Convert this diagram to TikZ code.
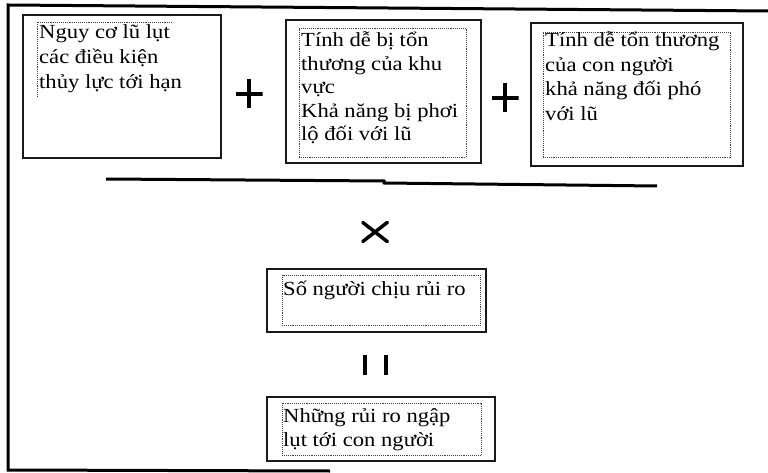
\documentclass[tikz,border=0pt]{standalone}
\usepackage{fontspec}
\setmainfont[FakeStretch=1.13]{Liberation Serif}
\newcommand\txtlines[2]{\vtop{\baselineskip=#1pt\lineskiplimit=-100pt\lineskip=0pt\halign{##\hfil\cr#2\crcr}}}
\begin{document}
\begin{tikzpicture}[x=1pt,y=-1pt,
  frameline/.style={line width=3pt, line join=miter},
  outerbox/.style={draw=black!90, line width=1.3pt, inner sep=0pt},
  innerbox/.style={draw=black!75, densely dotted, line width=0.9pt, inner sep=0pt},
  txt/.style={anchor=base west, inner sep=0pt, font=\fontsize{20}{24}\selectfont, text=black},
  plussign/.style={minimum width=27pt, minimum height=29pt, inner sep=0pt,
    path picture={\draw[line width=3.2pt] (path picture bounding box.west) -- (path picture bounding box.east)
      (path picture bounding box.north) -- (path picture bounding box.south);}},
  timessign/.style={minimum width=27pt, minimum height=21pt, inner sep=0pt,
    path picture={\draw[line width=3.5pt] (path picture bounding box.north west) -- (path picture bounding box.south east)
      (path picture bounding box.north east) -- (path picture bounding box.south west);}},
  bar/.style={line width=3.4pt}
]
\useasboundingbox (0,0) rectangle (768,473);
% outer frame
\coordinate (fTR) at (768,11);
\coordinate (fTL) at (8,5);
\coordinate (fBL) at (8,470);
\coordinate (fBR) at (330,471);
\draw[frameline] (fTR) -- (fTL) -- (fBL) -- (fBR);

% box 1
\node[outerbox, minimum width=198pt, minimum height=143pt] (b1) at (122,86.5) {};
\coordinate (i1a) at (172,22);
\coordinate (i1b) at (37,22);
\coordinate (i1c) at (37,97);
\draw[black!75, densely dotted, line width=0.9pt] (i1a) -- (i1b) -- (i1c);
\node[txt] (t1) at (39,39) {\txtlines{25}{Nguy cơ lũ lụt\cr các điều kiện\cr thủy lực tới hạn}};

% box 2
\node[outerbox, minimum width=195pt, minimum height=143pt] (b2) at (383.5,91.5) {};
\node[innerbox, minimum width=167pt, minimum height=129pt] (d2) at (382.5,92.5) {};
\node[txt] (t2) at (301,47) {\txtlines{23.5}{Tính dễ bị tổn\cr thương của khu\cr vực\cr Khả năng bị phơi\cr lộ đối với lũ}};

% box 3
\node[outerbox, minimum width=212pt, minimum height=143pt] (b3) at (637,94.5) {};
\node[innerbox, minimum width=187pt, minimum height=125pt] (d3) at (636.5,94.5) {};
\node[txt] (t3) at (545,47) {\txtlines{24.5}{Tính dễ tổn thương\cr của con người\cr khả năng đối phó\cr với lũ}};

% plus signs
\node[plussign] (p1) at (249,94) {};
\node[plussign] (p2) at (505,98) {};

% fraction line
\coordinate (hl1) at (106,179);
\coordinate (hl2) at (384,181);
\coordinate (hl3) at (384,183);
\coordinate (hl4) at (657,186);
\draw[line width=3pt] (hl1) -- (hl2) -- (hl3) -- (hl4);

% times sign
\node[timessign] (x1) at (375,232) {};

% box 4
\node[outerbox, minimum width=219pt, minimum height=63pt] (b4) at (376.5,300.5) {};
\node[innerbox, minimum width=198pt, minimum height=50pt] (d4) at (381,300) {};
\node[txt] (t4) at (283,295) {Số người chịu rủi ro};

% equals (vertical bars)
\coordinate (e1a) at (365,355);
\coordinate (e1b) at (365,375);
\coordinate (e2a) at (386,355);
\coordinate (e2b) at (386,375);
\draw[bar] (e1a) -- (e1b);
\draw[bar] (e2a) -- (e2b);

% box 5
\node[outerbox, minimum width=228pt, minimum height=64pt] (b5) at (381,429) {};
\node[innerbox, minimum width=199pt, minimum height=52pt] (d5) at (381.5,429) {};
\node[txt] (t5) at (283,422) {\txtlines{24}{Những rủi ro ngập\cr lụt tới con người}};
\end{tikzpicture}
\end{document}
